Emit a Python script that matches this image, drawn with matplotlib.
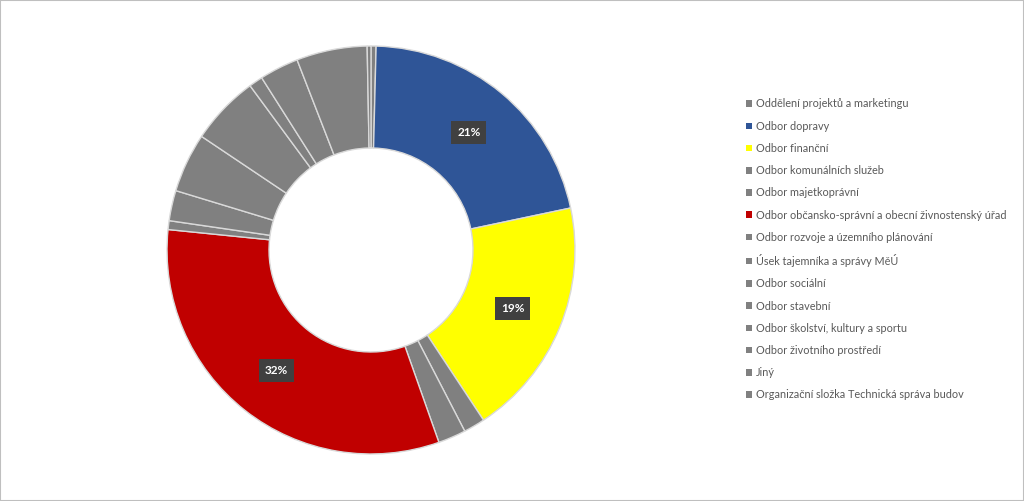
import matplotlib
matplotlib.use("Agg")
import matplotlib.pyplot as plt
from matplotlib.patches import Rectangle

categories = [
    "Oddělení projektů a marketingu",
    "Odbor dopravy",
    "Odbor finanční",
    "Odbor komunálních služeb",
    "Odbor majetkoprávní",
    "Odbor občansko-správní a obecní živnostenský úřad",
    "Odbor rozvoje a územního plánování",
    "Úsek tajemníka a správy MěÚ",
    "Odbor sociální",
    "Odbor stavební",
    "Odbor školství, kultury a sportu",
    "Odbor životního prostředí",
    "Jiný",
    "Organizační složka Technická správa budov",
]
values = [0.4, 21.3, 19.0, 1.7, 2.2, 32.0, 0.7, 2.4, 4.7, 5.5, 1.1, 3.1, 5.6, 0.3]
colors = ["#808080", "#2F5597", "#FFFF00", "#808080", "#808080", "#C00000",
          "#808080", "#808080", "#808080", "#808080", "#808080", "#808080",
          "#808080", "#808080"]

plt.rcParams['font.family'] = ['Lato', 'DejaVu Sans']

fig = plt.figure(figsize=(10.24, 5.01), dpi=100)
fig.patches.append(Rectangle((0, 0), 1, 1, transform=fig.transFigure,
                             fill=False, edgecolor="#BFBFBF", linewidth=1.5))

ax = fig.add_axes([(371 - 205) / 1024, (501 - 250 - 205) / 501, 410 / 1024, 410 / 501])


def fmt(p):
    return f"{p:.0f}%" if p > 10 else ""


wedges, texts, autotexts = ax.pie(
    values, colors=colors, startangle=90, counterclock=False, radius=1.0,
    wedgeprops=dict(width=0.5, edgecolor="#D9D9D9", linewidth=1.0),
    autopct=fmt, pctdistance=0.75,
    textprops=dict(color="white", fontsize=8.5, fontweight="bold"))
for t in autotexts:
    if t.get_text():
        t.set_bbox(dict(boxstyle="square,pad=0.5", facecolor="#404040", edgecolor="none"))
ax.set_xlim(-1.005, 1.005)
ax.set_ylim(-1.005, 1.005)
ax.set_aspect("equal")
ax.axis("off")

leg = fig.legend(wedges, categories, loc="upper left",
                 bbox_to_anchor=(741 / 1024, 1 - 93 / 501), frameon=False,
                 fontsize=7.85, handlelength=0.55, handleheight=0.55,
                 handletextpad=0.35, labelspacing=1.03, borderpad=0)
for t in leg.get_texts():
    t.set_color("#595959")
for h in leg.legend_handles:
    h.set_edgecolor("none")

fig.savefig("out.png", dpi=100)
